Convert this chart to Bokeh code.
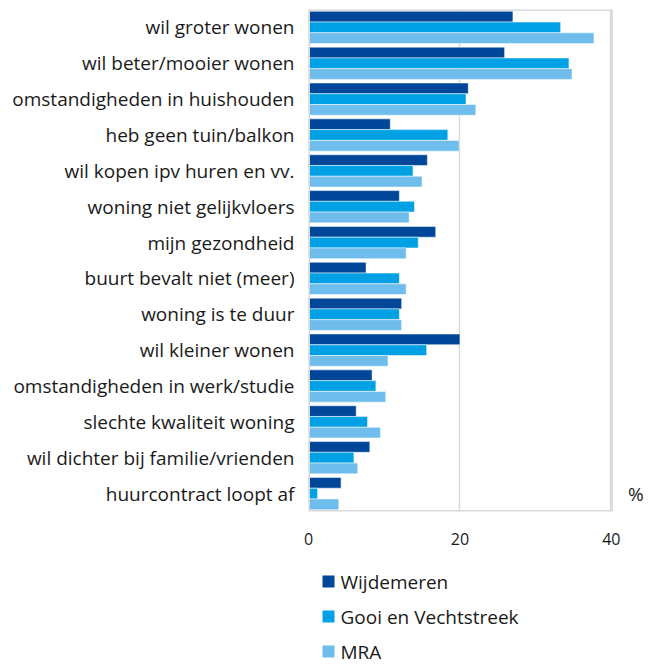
from bokeh.plotting import figure
from bokeh.models import FactorRange, FixedTicker, Range1d, ColumnDataSource
from bokeh.layouts import column
from bokeh.transform import dodge
from bokeh.core.properties import value
from bokeh.embed import file_html
from bokeh.resources import INLINE

categories = [
    "wil groter wonen",
    "wil beter/mooier wonen",
    "omstandigheden in huishouden",
    "heb geen tuin/balkon",
    "wil kopen ipv huren en vv.",
    "woning niet gelijkvloers",
    "mijn gezondheid",
    "buurt bevalt niet (meer)",
    "woning is te duur",
    "wil kleiner wonen",
    "omstandigheden in werk/studie",
    "slechte kwaliteit woning",
    "wil dichter bij familie/vrienden",
    "huurcontract loopt af",
]
wijdemeren = [27.0, 25.9, 21.1, 10.8, 15.7, 12.0, 16.8, 7.6, 12.3, 20.0, 8.4, 6.3, 8.1, 4.3]
gooi = [33.3, 34.4, 20.8, 18.4, 13.8, 14.0, 14.5, 12.0, 12.0, 15.6, 8.9, 7.8, 6.0, 1.2]
mra = [37.7, 34.8, 22.1, 19.9, 15.0, 13.3, 12.9, 12.9, 12.3, 10.5, 10.2, 9.5, 6.5, 4.0]
series_names = ["Wijdemeren", "Gooi en Vechtstreek", "MRA"]
x_ticks = [0, 20, 40]
x_max = 40
unit_label = "%"

colors = ["#00479A", "#00A1E4", "#6FBDEC"]
FONT = "Open Sans"
TXT = "#1a1a1a"
GRID = "#d9d9d9"
LEFT = 308

src = ColumnDataSource(dict(cat=categories, w=wijdemeren, g=gooi, m=mra))

p = figure(
    width=651, height=560,
    y_range=FactorRange(factors=list(reversed(categories))),
    x_range=Range1d(0, 45.3),
    output_backend="svg", toolbar_location=None,
    min_border_left=LEFT, min_border_right=0, min_border_top=9, min_border_bottom=49,
)

for col, off, c in zip(["w", "g", "m"], [0.3, 0.0, -0.3], colors):
    p.hbar(y=dodge("cat", off, range=p.y_range), right=col, left=0, height=0.3,
           source=src, fill_color=c, line_color="white", line_alpha=0.5, line_width=1)

# plot-area box (0..x_max) drawn through the scales
box_src = ColumnDataSource(dict(top=[categories[0]], bot=[categories[-1]]))
p.quad(left=0, right=x_max,
       top=dodge("top", 0.5, range=p.y_range), bottom=dodge("bot", -0.5, range=p.y_range),
       source=box_src, fill_color=None, line_color=GRID, line_width=3)

p.outline_line_color = None
p.ygrid.grid_line_color = None
p.xgrid.grid_line_color = GRID
p.xgrid.grid_line_width = 1.5
p.xgrid.ticker = FixedTicker(ticks=[20])
p.xaxis.ticker = FixedTicker(ticks=x_ticks)
p.xaxis.axis_line_color = None
p.xaxis.major_tick_line_color = None
p.xaxis.major_tick_out = 0
p.xaxis.minor_tick_line_color = None
p.xaxis.major_label_standoff = 21
p.xaxis.major_label_text_font = FONT
p.xaxis.major_label_text_font_size = "16px"
p.xaxis.major_label_text_color = TXT

p.yaxis.axis_line_color = None
p.yaxis.major_tick_line_color = None
p.yaxis.major_tick_out = 0
p.yaxis.major_label_standoff = 14
p.yaxis.major_label_text_font = FONT
p.yaxis.major_label_text_font_size = "19px"
p.yaxis.major_label_text_color = TXT

# unit label to the right of the bars area
p.text(x=[42.2], y=[categories[-1]], text=[unit_label], text_font=value(FONT),
       text_font_size="19px", text_color=TXT, text_baseline="middle")

# legend as a separate small figure, frame aligned with main frame (pixel units)
LH = 104
lg = figure(width=651, height=LH, x_range=Range1d(0, 651 - LEFT), y_range=Range1d(0, LH),
            output_backend="svg", toolbar_location=None,
            min_border_left=LEFT, min_border_right=0, min_border_top=0, min_border_bottom=0,
            x_axis_type=None, y_axis_type=None)
lg.outline_line_color = None
lg.grid.grid_line_color = None
n = len(series_names)
ly = [LH - 21 - 35 * i for i in range(n)]
lg.scatter(x=[20] * n, y=ly, marker="square", size=12, fill_color=colors, line_color=None)
lg.text(x=[32] * n, y=ly, text=series_names, text_font=value(FONT),
        text_font_size="19px", text_color=TXT, text_baseline="middle")

layout = column(p, lg, spacing=0)
open("out.html", "w").write(file_html(layout, INLINE))
